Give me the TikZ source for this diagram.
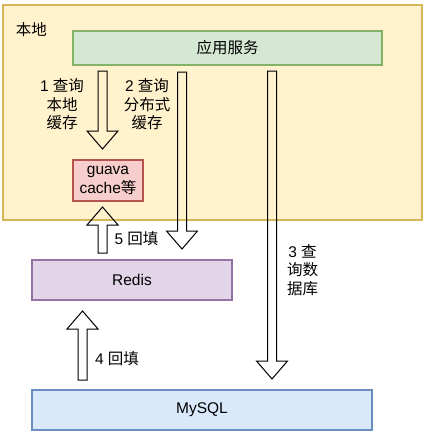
\documentclass[tikz,border=0pt]{standalone}
\usepackage{fontspec}
\setmainfont{Liberation Sans}
\newfontfamily\cjk{Noto Sans CJK SC}
\usetikzlibrary{calc,positioning}
\definecolor{localfill}{HTML}{FFF2CC}
\definecolor{localline}{HTML}{D6B656}
\definecolor{appfill}{HTML}{D5E8D4}
\definecolor{appline}{HTML}{82B366}
\definecolor{guavafill}{HTML}{F8CECC}
\definecolor{guavaline}{HTML}{B85450}
\definecolor{redisfill}{HTML}{E1D5E7}
\definecolor{redisline}{HTML}{9673A6}
\definecolor{mysqlfill}{HTML}{DAE8FC}
\definecolor{mysqlline}{HTML}{6C8EBF}

% hollow block arrow from #1 to #2 (tip at #2)
\newcommand{\fatarrow}[2]{%
  \coordinate (fa-h) at ($(#2)!18pt!(#1)$);
  \draw[fatarr] ($(#1)!4.5pt!90:(#2)$) -- ($(fa-h)!4.5pt!90:(#2)$) -- ($(fa-h)!15.5pt!90:(#2)$) -- (#2)
    -- ($(fa-h)!15.5pt!-90:(#2)$) -- ($(fa-h)!4.5pt!-90:(#2)$) -- ($(#1)!4.5pt!-90:(#2)$) -- cycle;}

\begin{document}
\begin{tikzpicture}[
    x=1pt, y=-1pt,
    txt/.style={font=\fontsize{15.5}{18.5}\selectfont, align=center, inner sep=0pt},
    box/.style={rectangle, draw, line width=1.3pt, txt},
    localbox/.style={box, fill=localfill, draw=localline},
    appbox/.style={box, fill=appfill, draw=appline},
    guavabox/.style={box, fill=guavafill, draw=guavaline},
    redisbox/.style={box, fill=redisfill, draw=redisline},
    mysqlbox/.style={box, fill=mysqlfill, draw=mysqlline},
    fatarr/.style={draw=black, line width=1pt, line join=miter}
]
\useasboundingbox (0,0) rectangle (426,434);

% Local area
\node[localbox, minimum width=419pt, minimum height=215pt] (local) at (212.5,112.5) {};
\node[txt] (localtitle) at (31.5,30) {\cjk 本地};

% Boxes
\node[appbox, minimum width=309pt, minimum height=34pt] (app) at (227.5,48) {\cjk 应用服务};
\node[guavabox, minimum width=70pt, minimum height=41pt] (guava) at (108,180.5) {guava\\cache{\cjk 等}};
\node[redisbox, minimum width=200pt, minimum height=40pt] (redis) at (132,280) {Redis};
\node[mysqlbox, minimum width=340pt, minimum height=40pt] (mysql) at (202,410) {MySQL};

% Arrow ends
\coordinate (q1s) at (102.5,71);
\coordinate (q1e) at (102.5,149);
\coordinate (q2s) at (182,72);
\coordinate (q2e) at (182,249);
\coordinate (q3s) at (272,71);
\coordinate (q3e) at (272,379);
\coordinate (f4s) at (82.5,380);
\coordinate (f4e) at (82.5,311);
\coordinate (f5s) at (102.5,253);
\coordinate (f5e) at (102.5,207);

% Arrows
\fatarrow{q1s}{q1e}
\fatarrow{q2s}{q2e}
\fatarrow{q3s}{q3e}
\fatarrow{f4s}{f4e}
\fatarrow{f5s}{f5e}

% Labels
\node[txt] (l1) at (62,104.5) {1 {\cjk 查询}\\{\cjk 本地}\\{\cjk 缓存}};
\node[txt] (l2) at (147,104.5) {2 {\cjk 查询}\\{\cjk 分布式}\\{\cjk 缓存}};
\node[txt] (l3) at (302.5,270) {3 {\cjk 查}\\{\cjk 询数}\\{\cjk 据库}};
\node[txt] (l4) at (117,359) {4 {\cjk 回填}};
\node[txt] (l5) at (136.5,239) {5 {\cjk 回填}};

\end{tikzpicture}
\end{document}
